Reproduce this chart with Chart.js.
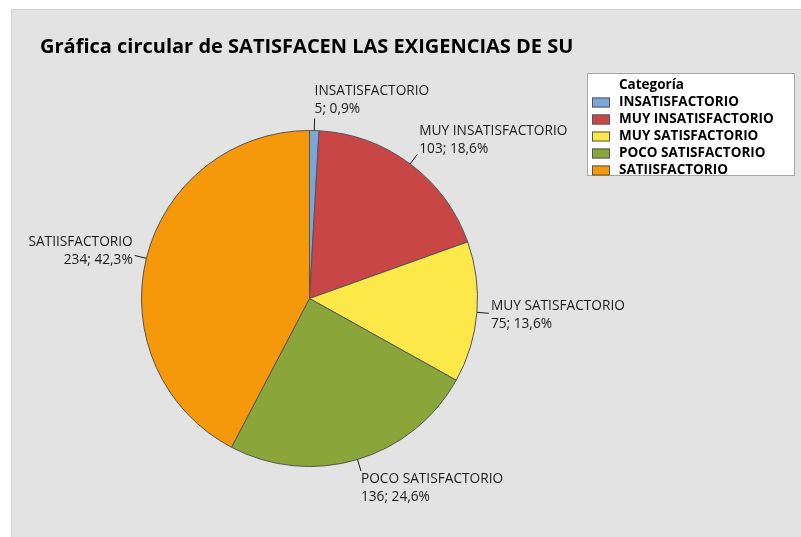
<!DOCTYPE html>
<html>
<head>
<meta charset="utf-8">
<script src="https://cdn.jsdelivr.net/npm/chart.js@4"></script>
<style>
  html, body { margin: 0; padding: 0; background: #fff; }
  #wrap { width: 801px; height: 537px; position: relative; }
</style>
</head>
<body>
<div id="wrap"><canvas id="pieChart" width="801" height="537"></canvas></div>
<script>
// --- datos de la gráfica ---
const chartTitle = 'Gráfica circular de SATISFACEN LAS EXIGENCIAS DE SU';
const legendTitle = 'Categoría';
const categorias = ['INSATISFACTORIO', 'MUY INSATISFACTORIO', 'MUY SATISFACTORIO', 'POCO SATISFACTORIO', 'SATIISFACTORIO'];
const conteos = [5, 103, 75, 136, 234];
const porcentajes = ['0,9%', '18,6%', '13,6%', '24,6%', '42,3%'];
const colores = ['#7ba6da', '#c84646', '#fde84a', '#8aa63b', '#f5980a'];

const FONT = '"Open Sans", "Noto Sans", sans-serif';

// fondo gris con borde (estilo Minitab)
const fondoPlugin = {
    id: 'fondo',
    beforeDraw(chart) {
        const ctx = chart.ctx;
        ctx.save();
        ctx.fillStyle = '#ffffff';
        ctx.fillRect(0, 0, chart.width, chart.height);
        ctx.fillStyle = '#e3e3e3';
        ctx.fillRect(11, 9, chart.width - 11, chart.height - 9);
        ctx.strokeStyle = '#d0d0d0';
        ctx.lineWidth = 1;
        ctx.beginPath();
        ctx.moveTo(11.5, chart.height);
        ctx.lineTo(11.5, 9.5);
        ctx.lineTo(chart.width, 9.5);
        ctx.stroke();

        // titulo
        ctx.fillStyle = '#000';
        ctx.font = 'bold 20px ' + FONT;
        ctx.textBaseline = 'middle';
        ctx.textAlign = 'left';
        ctx.fillText(chartTitle, 40, 47);
        ctx.restore();
    }
};

// etiquetas con línea guía
const etiquetasPlugin = {
    id: 'etiquetas',
    afterDatasetsDraw(chart) {
        const ctx = chart.ctx;
        const meta = chart.getDatasetMeta(0);
        ctx.save();
        ctx.font = '13.7px ' + FONT;
        ctx.fillStyle = '#1a1a1a';
        ctx.strokeStyle = '#1a1a1a';
        ctx.lineWidth = 1;
        ctx.textBaseline = 'middle';
        meta.data.forEach((arc, i) => {
            const mid = (arc.startAngle + arc.endAngle) / 2;
            const ux = Math.cos(mid), uy = Math.sin(mid);
            const r = arc.outerRadius;
            const px = arc.x + ux * r, py = arc.y + uy * r;
            const L = 12;
            const ex = px + ux * L, ey = py + uy * L;
            ctx.beginPath();
            ctx.moveTo(px, py);
            ctx.lineTo(ex, ey);
            ctx.stroke();

            const lineas = [categorias[i], conteos[i] + '; ' + porcentajes[i]];
            const cy = ey + uy * 18;
            let tx;
            if (ux < -0.3) {
                ctx.textAlign = 'right';
                tx = ex - 2;
            } else {
                ctx.textAlign = 'left';
                tx = ux > 0.3 ? ex + 2 : ex;
            }
            ctx.fillText(lineas[0], tx, cy - 9);
            ctx.fillText(lineas[1], tx, cy + 9);
        });
        ctx.restore();
    }
};

// leyenda en recuadro
const leyendaPlugin = {
    id: 'leyenda',
    afterDraw(chart) {
        const ctx = chart.ctx;
        const x0 = 587, y0 = 73, w = 207, h = 102;
        ctx.save();
        ctx.fillStyle = '#ffffff';
        ctx.fillRect(x0, y0, w, h);
        ctx.strokeStyle = '#a6a6a6';
        ctx.lineWidth = 1;
        ctx.strokeRect(x0 + 0.5, y0 + 0.5, w, h);

        ctx.fillStyle = '#000';
        ctx.textBaseline = 'middle';
        ctx.textAlign = 'left';
        ctx.font = 'bold 13.5px ' + FONT;
        ctx.fillText(legendTitle, 619, 85);
        chart.data.labels.forEach((lab, i) => {
            const yc = 102.5 + i * 17;
            ctx.fillStyle = chart.data.datasets[0].backgroundColor[i];
            ctx.fillRect(592, yc - 5, 18, 10);
            ctx.strokeStyle = '#555';
            ctx.strokeRect(592.5, yc - 4.5, 17, 9);
            ctx.fillStyle = '#000';
            ctx.fillText(lab, 619, yc);
        });
        ctx.restore();
    }
};

new Chart(document.getElementById('pieChart'), {
    type: 'pie',
    data: {
        labels: categorias,
        datasets: [{
            data: conteos,
            backgroundColor: colores,
            borderColor: '#555555',
            borderWidth: 1
        }]
    },
    options: {
        responsive: false,
        animation: false,
        layout: { padding: { left: 141, right: 323, top: 130, bottom: 70 } },
        plugins: {
            legend: { display: false },
            tooltip: { enabled: false },
            title: { display: false }
        }
    },
    plugins: [fondoPlugin, etiquetasPlugin, leyendaPlugin]
});
</script>
</body>
</html>
